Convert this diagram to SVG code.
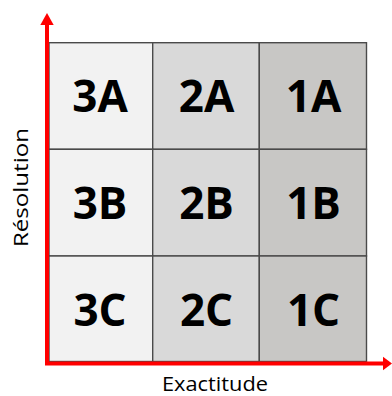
<svg xmlns="http://www.w3.org/2000/svg" width="392" height="396" viewBox="0 0 392 396">
  <style>
    .cell { stroke: #4a4a4a; stroke-width: 1.4; }
    .c1 { fill: #f2f2f2; }
    .c2 { fill: #d9d9d9; }
    .c3 { fill: #c8c7c5; }
    .lbl { font-family: "Open Sans", "Liberation Sans", sans-serif; font-weight: bold; font-size: 44px; fill: #000; text-anchor: middle; }
    .axis { stroke: #ff0000; stroke-width: 4; fill: none; }
    .ax-lbl { font-family: "Open Sans", "Liberation Sans", sans-serif; font-size: 20.5px; fill: #000; text-anchor: middle; }
  </style>
  <rect width="392" height="396" fill="#ffffff"/>
  <g id="cell-3A"><rect class="cell c1" x="49" y="42.7" width="103.7" height="106.6"/><text class="lbl" x="100" y="112">3A</text></g>
  <g id="cell-2A"><rect class="cell c2" x="152.7" y="42.7" width="106.6" height="106.6"/><text class="lbl" x="206.5" y="112">2A</text></g>
  <g id="cell-1A"><rect class="cell c3" x="259.3" y="42.7" width="107.2" height="106.6"/><text class="lbl" x="313.5" y="112">1A</text></g>
  <g id="cell-3B"><rect class="cell c1" x="49" y="149.3" width="103.7" height="106.7"/><text class="lbl" x="100" y="218.5">3B</text></g>
  <g id="cell-2B"><rect class="cell c2" x="152.7" y="149.3" width="106.6" height="106.7"/><text class="lbl" x="206.5" y="218.5">2B</text></g>
  <g id="cell-1B"><rect class="cell c3" x="259.3" y="149.3" width="107.2" height="106.7"/><text class="lbl" x="313.5" y="218.5">1B</text></g>
  <g id="cell-3C"><rect class="cell c1" x="49" y="256" width="103.7" height="105.5"/><text class="lbl" x="100" y="325.5">3C</text></g>
  <g id="cell-2C"><rect class="cell c2" x="152.7" y="256" width="106.6" height="105.5"/><text class="lbl" x="206.5" y="325.5">2C</text></g>
  <g id="cell-1C"><rect class="cell c3" x="259.3" y="256" width="107.2" height="105.5"/><text class="lbl" x="313.5" y="325.5">1C</text></g>
  <g id="connectors">
    <polyline class="axis" points="47,24 47,363.5 384,363.5"/>
    <polygon points="47,13 40.3,25 53.7,25" fill="#ff0000"/>
    <polygon points="392,363.5 383,356.8 383,370.2" fill="#ff0000"/>
  </g>
  <g id="labels">
    <text class="ax-lbl" x="215" y="390.5" textLength="106" lengthAdjust="spacingAndGlyphs">Exactitude</text>
    <text class="ax-lbl" transform="translate(28,187.5) rotate(-90)" x="0" y="0" textLength="119" lengthAdjust="spacingAndGlyphs">Résolution</text>
  </g>
</svg>
